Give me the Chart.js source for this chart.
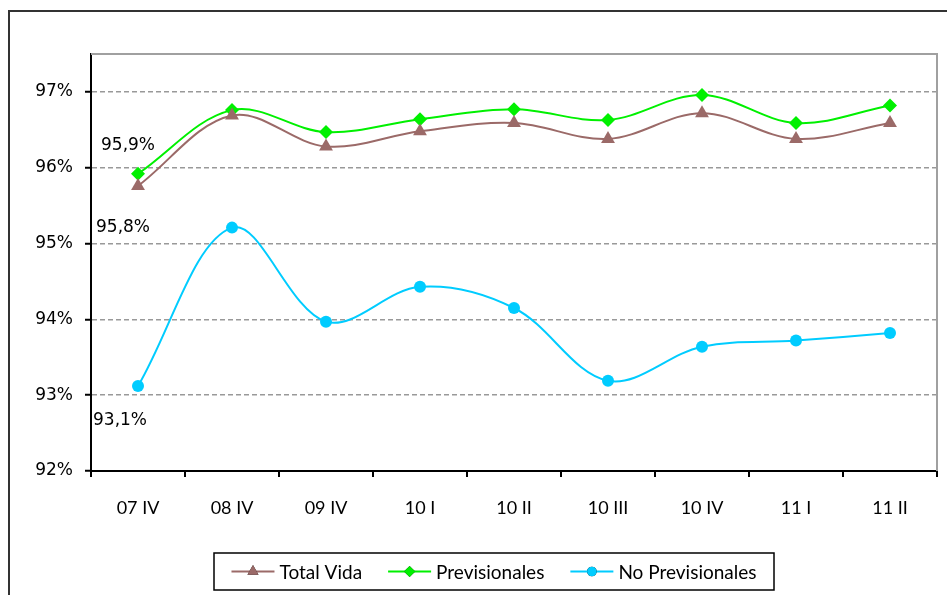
<!DOCTYPE html>
<html>
<head>
<meta charset="utf-8">
<script src="https://cdn.jsdelivr.net/npm/chart.js@4.4.0/dist/chart.umd.min.js"></script>
<style>
  html, body { margin: 0; padding: 0; background: #fff; }
  #wrap { width: 947px; height: 595px; position: relative; }
</style>
</head>
<body>
<div id="wrap"><canvas id="chart1" width="947" height="595"></canvas></div>
<script>
// quarters
var categories = ['07 IV', '08 IV', '09 IV', '10 I', '10 II', '10 III', '10 IV', '11 I', '11 II'];
// series (%)
var totalVida = [95.76, 96.69, 96.28, 96.48, 96.59, 96.38, 96.72, 96.38, 96.59];
var previsionales = [95.92, 96.76, 96.47, 96.64, 96.77, 96.63, 96.96, 96.59, 96.82];
var noPrevisionales = [93.12, 95.21, 93.97, 94.43, 94.15, 93.19, 93.64, 93.72, 93.82];
// y axis
var yMin = 92, yMax = 97.5, yStep = 1;

var labelFont = '19px Lato, "Noto Sans", sans-serif';
var numFont = '17px "DejaVu Sans", sans-serif';

function pct(v) { return v.toFixed(1).replace('.', ',') + '%'; }

/* frame, plot border, data labels and legend */
var decor = {
	id: 'decor',
	beforeDraw: function (chart) {
		var c = chart.ctx;
		c.save();
		c.strokeStyle = '#333';
		c.lineWidth = 2;
		c.beginPath();
		c.moveTo(9, 595);
		c.lineTo(9, 11);
		c.lineTo(947, 11);
		c.stroke();
		c.restore();
	},
	afterDatasetsDraw: function (chart) {
		var c = chart.ctx, a = chart.chartArea;
		c.save();
		c.strokeStyle = '#A0A0A0';
		c.lineWidth = 2;
		c.beginPath();
		c.moveTo(a.left, a.top);
		c.lineTo(a.right, a.top);
		c.lineTo(a.right, a.bottom);
		c.stroke();

		// value labels on the first quarter
		var labels = [
			{ ds: 1, i: 0, dx: -10, dy: -28 },
			{ ds: 0, i: 0, dx: -15, dy: 42 },
			{ ds: 2, i: 0, dx: -18, dy: 34 }
		];
		c.font = numFont;
		c.fillStyle = '#000';
		c.textAlign = 'center';
		c.textBaseline = 'middle';
		labels.forEach(function (l) {
			var pt = chart.getDatasetMeta(l.ds).data[l.i];
			var v = chart.data.datasets[l.ds].data[l.i];
			c.fillText(pct(v), pt.x + l.dx, pt.y + l.dy);
		});

		// legend
		var box = { x: 214, y: 553, w: 560, h: 37 };
		c.strokeStyle = '#000';
		c.lineWidth = 1.5;
		c.strokeRect(box.x, box.y, box.w, box.h);
		c.font = labelFont;
		c.textAlign = 'left';
		var seg = 43, gap = 5, space = 26, total = 0;
		var items = chart.data.datasets.map(function (d) {
			var w = c.measureText(d.label).width;
			total += seg + gap + w;
			return { d: d, w: w };
		});
		total += space * (items.length - 1);
		var x = box.x + (box.w - total) / 2, cy = box.y + box.h / 2;
		items.forEach(function (it) {
			var d = it.d;
			c.strokeStyle = d.borderColor;
			c.lineWidth = 2;
			c.beginPath();
			c.moveTo(x, cy);
			c.lineTo(x + seg, cy);
			c.stroke();
			Chart.helpers.drawPoint(c, {
				pointStyle: d.pointStyle, radius: d.pointRadius * 0.8, rotation: 0,
				borderWidth: 0
			}, x + seg / 2, cy);
			c.fillStyle = d.pointBackgroundColor;
			c.fill();
			c.fillStyle = '#000';
			c.fillText(d.label, x + seg + gap, cy + 1);
			x += seg + gap + it.w + space;
		});
		c.restore();
	}
};

var ctx = document.getElementById('chart1');
var chart1 = new Chart(ctx, {
	type: 'line',
	data: {
		labels: categories,
		datasets: [{
			label: 'Total Vida',
			data: totalVida,
			borderColor: '#9B6A68',
			backgroundColor: '#9B6A68',
			pointBackgroundColor: '#9B6A68',
			pointBorderColor: '#9B6A68',
			pointStyle: 'triangle',
			pointRadius: 8
		}, {
			label: 'Previsionales',
			data: previsionales,
			borderColor: '#00F000',
			backgroundColor: '#00F000',
			pointBackgroundColor: '#00F000',
			pointBorderColor: '#00F000',
			pointStyle: 'rectRot',
			pointRadius: 7
		}, {
			label: 'No Previsionales',
			data: noPrevisionales,
			borderColor: '#00CCFF',
			backgroundColor: '#00CCFF',
			pointBackgroundColor: '#00CCFF',
			pointBorderColor: '#00CCFF',
			pointStyle: 'circle',
			pointRadius: 6
		}]
	},
	options: {
		responsive: false,
		animation: false,
		events: [],
		layout: { padding: { top: 54, right: 10, left: 0, bottom: 0 } },
		elements: {
			line: { tension: 0.35, borderWidth: 2, fill: false },
			point: { borderWidth: 0, hoverRadius: 6 }
		},
		plugins: {
			legend: { display: false },
			tooltip: { enabled: false },
			title: { display: false }
		},
		scales: {
			x: {
				offset: true,
				afterFit: function (s) { s.height = 124; },
				grid: {
					offset: true, drawOnChartArea: false, drawTicks: true,
					tickLength: 6, color: '#000', lineWidth: 2
				},
				border: { color: '#000', width: 2 },
				ticks: {
					color: '#000', font: { family: 'Lato', size: 18 },
					padding: 20, maxRotation: 0, autoSkip: false
				}
			},
			y: {
				min: yMin,
				max: yMax,
				afterFit: function (s) { s.width = 91; },
				afterBuildTicks: function (s) {
					s.ticks = s.ticks.filter(function (t) { return Number.isInteger(t.value); });
				},
				grid: {
					color: function (c) { return c.tick && c.tick.value === yMin ? 'rgba(0,0,0,0)' : '#999999'; },
					lineWidth: 1.5,
					tickLength: 6,
					tickColor: '#000',
					tickWidth: 2
				},
				border: { color: '#000', width: 2, dash: [5, 3] },
				ticks: {
					stepSize: yStep,
					color: '#000',
					font: { family: 'DejaVu Sans', size: 17 },
					padding: 12,
					callback: function (v) { return v + '%'; }
				}
			}
		}
	},
	plugins: [decor]
});
</script>
</body>
</html>
